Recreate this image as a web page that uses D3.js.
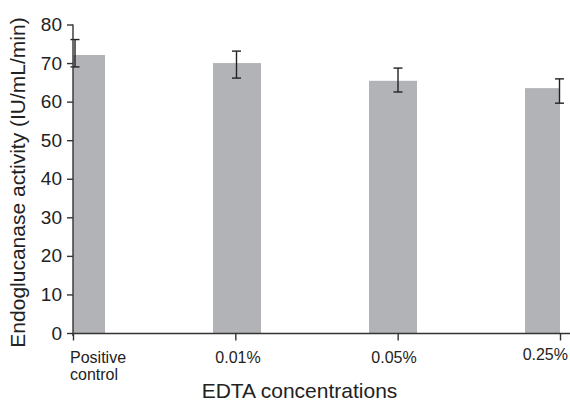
<!DOCTYPE html>
<html>
<head>
<meta charset="utf-8">
<script src="https://cdn.jsdelivr.net/npm/d3@7"></script>
<style>
  html, body { margin: 0; padding: 0; background: #fff; }
  svg { display: block; font-family: "Liberation Sans", Arial, sans-serif; }
</style>
</head>
<body>
<svg id="chart" width="570" height="402"></svg>
<script>
// EDTA concentration groups and endoglucanase activity (IU/mL/min)
const categories = ["Positive control", "0.01%", "0.05%", "0.25%"];
const activity   = [72.1, 70.0, 65.4, 63.5];
const errUpper   = [76.1, 73.1, 68.7, 65.9];
const errLower   = [69.0, 66.1, 62.5, 59.6];
const yTicks     = [0, 10, 20, 30, 40, 50, 60, 70, 80];

const svg = d3.select("#chart");
const ink = "#222";
const axisInk = "#333";

const plot = { left: 73, right: 560, top: 24.5, bottom: 333 };

const y = d3.scaleLinear().domain([0, 80]).range([plot.bottom, plot.top]);
// category tick positions along the x axis
const xTick = d3.scalePoint().domain(categories).range([plot.left, plot.right]);
// bar centres
const xBar = d3.scalePoint().domain(categories).range([81, 549]);
// error bar positions
const xErr = d3.scalePoint().domain(categories).range([75, 559.5]);
const barW = 48;

svg.append("defs").append("clipPath").attr("id", "plotClip")
  .append("rect")
  .attr("x", plot.left).attr("y", 0)
  .attr("width", plot.right - plot.left).attr("height", plot.bottom);

// bars
svg.append("g").attr("clip-path", "url(#plotClip)")
  .selectAll("rect").data(categories).join("rect")
  .attr("x", d => xBar(d) - barW / 2)
  .attr("y", (d, i) => y(activity[i]))
  .attr("width", barW)
  .attr("height", (d, i) => y(0) - y(activity[i]))
  .attr("fill", "#b2b3b6");

// error bars
const eg = svg.append("g").attr("stroke", ink).attr("stroke-width", 1.4).attr("fill", "none");
const capW = 4.5;
categories.forEach((c, i) => {
  const cx = xErr(c);
  eg.append("line").attr("x1", cx).attr("x2", cx).attr("y1", y(errUpper[i])).attr("y2", y(errLower[i]));
  eg.append("line").attr("x1", cx - capW).attr("x2", cx + capW).attr("y1", y(errUpper[i])).attr("y2", y(errUpper[i]));
  eg.append("line").attr("x1", cx - capW).attr("x2", cx + capW).attr("y1", y(errLower[i])).attr("y2", y(errLower[i]));
});

// y axis
const yAxis = svg.append("g")
  .attr("transform", `translate(${plot.left},0)`)
  .call(d3.axisLeft(y).tickValues(yTicks).tickSize(6).tickPadding(5).tickSizeOuter(0));
yAxis.select(".domain").attr("stroke", axisInk).attr("stroke-width", 1.4)
  .attr("d", `M0,${y(80)}V${plot.bottom + 3}`);
yAxis.selectAll(".tick line").attr("stroke", axisInk).attr("stroke-width", 1.4);
yAxis.selectAll(".tick text").attr("fill", ink).attr("font-size", 19)
  .attr("font-family", "Liberation Sans, Arial, sans-serif");

// x axis
const xAxis = svg.append("g")
  .attr("transform", `translate(0,${plot.bottom + 0.5})`)
  .call(d3.axisBottom(xTick).tickSize(7).tickSizeOuter(0).tickFormat(""));
xAxis.select(".domain").attr("stroke", axisInk).attr("stroke-width", 1.4)
  .attr("d", `M${plot.left},0H570`);
xAxis.selectAll(".tick line").attr("stroke", axisInk).attr("stroke-width", 1.4);

// category labels
const last = categories.length - 1;
const labels = svg.append("g").attr("fill", ink).attr("font-size", 16);
categories.forEach((c, i) => {
  const words = i === 0 ? c.split(" ") : [c];
  const t = labels.append("text")
    .attr("text-anchor", i === 0 ? "start" : i === last ? "end" : "middle")
    .attr("x", i === 0 ? plot.left - 3 : i === last ? 568 : xBar(c) + 1)
    .attr("y", i === last ? 360 : 362.5);
  words.forEach((w, k) => {
    t.append("tspan").attr("x", t.attr("x")).attr("dy", k === 0 ? 0 : 17.5).text(w);
  });
});

// axis titles
svg.append("text")
  .attr("x", 299.5).attr("y", 398)
  .attr("text-anchor", "middle")
  .attr("font-size", 21).attr("fill", ink)
  .text("EDTA concentrations");

svg.append("text")
  .attr("transform", `translate(24.5,182.5) rotate(-90)`)
  .attr("text-anchor", "middle")
  .attr("font-size", 21).attr("fill", ink)
  .text("Endoglucanase activity (IU/mL/min)");
</script>
</body>
</html>
